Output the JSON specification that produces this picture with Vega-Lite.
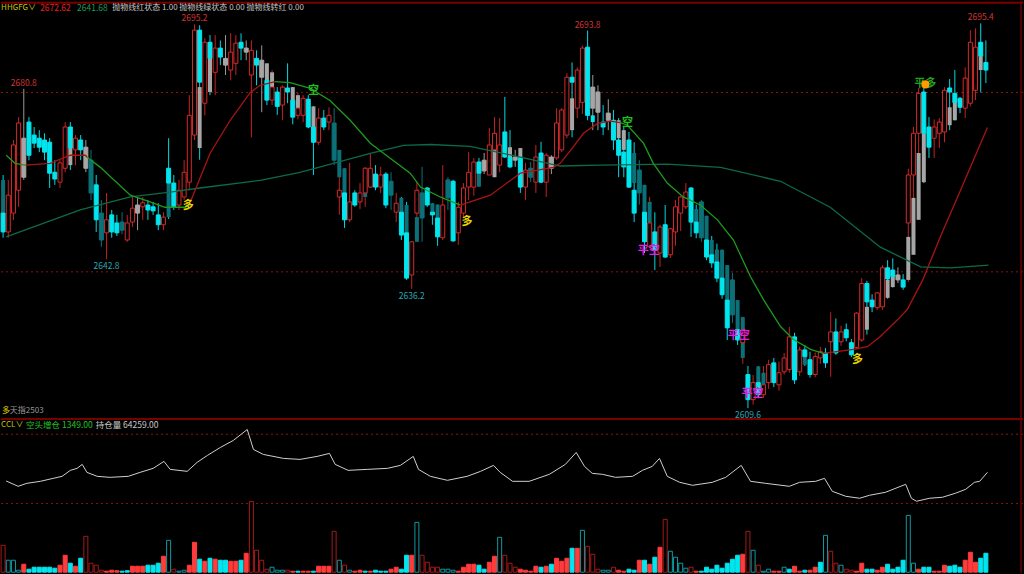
{
"$schema":"https://vega.github.io/schema/vega-lite/v6.json",
"background":"#000000",
"padding":0,
"width":1024,
"height":574,
"autosize":{"type":"fit","contains":"padding"},
"config":{"view":{"stroke":null},"legend":{"disable":true},"text":{"font":"Noto Sans CJK SC"}},
"resolve":{"scale":{"y":"independent","color":"independent","fill":"independent","stroke":"independent"}},
"datasets":{
"k":[
{"i":0,"k":"d","o":2653.1,"h":2661.6,"l":2647.6,"c":2648.9,"a":2660.5,"b":2653.1,"k2":"t","v":2700,"vt":"hr"},
{"i":1,"k":"u","o":2648.9,"h":2660.5,"l":2647.6,"c":2657.1,"v":1200,"vt":"ht"},
{"i":2,"k":"u","o":2653.1,"h":2669.4,"l":2651.6,"c":2668.3,"v":1200,"vt":"ht"},
{"i":3,"k":"u","o":2658.2,"h":2674.5,"l":2654.5,"c":2673.2,"v":200,"vt":"ht"},
{"i":4,"k":"g","o":2661.1,"h":2680.8,"l":2660.5,"c":2669.8,"v":800,"vt":"r"},
{"i":5,"k":"d","o":2673.4,"h":2674.5,"l":2664.9,"c":2666.0,"v":300,"vt":"c"},
{"i":6,"k":"d","o":2670.5,"h":2672.3,"l":2667.6,"c":2668.7,"v":500,"vt":"c"},
{"i":7,"k":"d","o":2669.8,"h":2671.6,"l":2666.7,"c":2667.8,"v":500,"vt":"c"},
{"i":8,"k":"d","o":2669.4,"h":2670.9,"l":2664.9,"c":2666.7,"v":500,"vt":"c"},
{"i":9,"k":"d","o":2668.9,"h":2669.8,"l":2658.7,"c":2662.0,"v":500,"vt":"c"},
{"i":10,"k":"d","o":2662.2,"h":2664.9,"l":2659.4,"c":2660.7,"v":400,"vt":"c"},
{"i":11,"k":"u","o":2660.0,"h":2664.9,"l":2658.7,"c":2664.3,"v":700,"vt":"r"},
{"i":12,"k":"u","o":2663.1,"h":2673.4,"l":2662.2,"c":2672.3,"v":1700,"vt":"r"},
{"i":13,"k":"d","o":2672.3,"h":2673.4,"l":2662.7,"c":2667.6,"a":2667.6,"b":2663.8,"k2":"g","v":900,"vt":"c"},
{"i":14,"k":"u","o":2667.2,"h":2670.5,"l":2663.8,"c":2669.8,"v":600,"vt":"r"},
{"i":15,"k":"d","o":2669.4,"h":2670.5,"l":2664.9,"c":2667.2,"v":1400,"vt":"c"},
{"i":16,"k":"g","o":2667.8,"h":2669.4,"l":2662.2,"c":2663.1,"v":3600,"vt":"hr"},
{"i":17,"k":"t","o":2664.9,"h":2667.2,"l":2656.0,"c":2657.6,"v":900,"vt":"hr"},
{"i":18,"k":"d","o":2659.4,"h":2661.6,"l":2648.9,"c":2651.6,"v":700,"vt":"hr"},
{"i":19,"k":"t","o":2653.1,"h":2656.0,"l":2645.6,"c":2647.1,"v":200,"vt":"hr"},
{"i":20,"k":"u","o":2648.7,"h":2657.6,"l":2642.8,"c":2651.6,"v":100,"vt":"r"},
{"i":21,"k":"d","o":2652.7,"h":2653.8,"l":2647.6,"c":2648.9,"v":200,"vt":"r"},
{"i":22,"k":"d","o":2650.9,"h":2652.7,"l":2648.0,"c":2648.7,"v":150,"vt":"r"},
{"i":23,"k":"t","o":2651.1,"h":2653.3,"l":2648.4,"c":2649.3,"v":100,"vt":"c"},
{"i":24,"k":"u","o":2647.1,"h":2652.7,"l":2646.7,"c":2650.9,"v":150,"vt":"c"},
{"i":25,"k":"u","o":2651.1,"h":2656.7,"l":2650.0,"c":2654.2,"v":600,"vt":"r"},
{"i":26,"k":"g","o":2654.9,"h":2656.5,"l":2649.3,"c":2653.1,"v":600,"vt":"r"},
{"i":27,"k":"u","o":2654.5,"h":2656.7,"l":2651.6,"c":2655.4,"v":600,"vt":"r"},
{"i":28,"k":"d","o":2654.9,"h":2656.0,"l":2651.6,"c":2653.8,"v":700,"vt":"c"},
{"i":29,"k":"d","o":2654.5,"h":2655.6,"l":2652.7,"c":2653.6,"v":700,"vt":"c"},
{"i":30,"k":"d","o":2652.7,"h":2655.3,"l":2649.3,"c":2650.5,"v":900,"vt":"c"},
{"i":31,"k":"u","o":2650.5,"h":2653.3,"l":2649.3,"c":2652.2,"v":1600,"vt":"r"},
{"i":32,"k":"d","o":2663.1,"h":2669.8,"l":2651.8,"c":2659.8,"a":2659.8,"b":2652.2,"k2":"t","v":3200,"vt":"ht"},
{"i":33,"k":"d","o":2659.8,"h":2661.6,"l":2653.8,"c":2654.5,"v":300,"vt":"hr"},
{"i":34,"k":"u","o":2654.9,"h":2660.5,"l":2653.8,"c":2658.2,"v":100,"vt":"ht"},
{"i":35,"k":"u","o":2656.7,"h":2664.9,"l":2656.0,"c":2662.2,"v":200,"vt":"ht"},
{"i":36,"k":"u","o":2660.0,"h":2679.4,"l":2658.2,"c":2674.9,"v":700,"vt":"r"},
{"i":37,"k":"u","o":2670.5,"h":2695.2,"l":2669.4,"c":2693.9,"v":3000,"vt":"r"},
{"i":38,"k":"d","o":2693.9,"h":2695.0,"l":2665.0,"c":2682.3,"a":2681.2,"b":2667.6,"k2":"g","v":1300,"vt":"c"},
{"i":39,"k":"u","o":2677.6,"h":2692.1,"l":2674.9,"c":2691.2,"v":1100,"vt":"r"},
{"i":40,"k":"d","o":2691.2,"h":2692.8,"l":2679.4,"c":2687.6,"a":2687.6,"b":2680.1,"k2":"g","v":1400,"vt":"c"},
{"i":41,"k":"u","o":2684.5,"h":2692.8,"l":2679.4,"c":2689.9,"v":1300,"vt":"r"},
{"i":42,"k":"d","o":2689.9,"h":2691.6,"l":2686.1,"c":2687.9,"v":1200,"vt":"c"},
{"i":43,"k":"g","o":2687.6,"h":2692.8,"l":2683.9,"c":2686.1,"v":1200,"vt":"c"},
{"i":44,"k":"u","o":2685.0,"h":2693.2,"l":2682.7,"c":2689.0,"v":1100,"vt":"r"},
{"i":45,"k":"u","o":2686.5,"h":2692.8,"l":2683.9,"c":2691.0,"v":1100,"vt":"r"},
{"i":46,"k":"d","o":2691.2,"h":2693.2,"l":2687.2,"c":2689.9,"v":1200,"vt":"c"},
{"i":47,"k":"g","o":2689.9,"h":2691.6,"l":2687.2,"c":2689.0,"v":1900,"vt":"r"},
{"i":48,"k":"u","o":2683.9,"h":2691.6,"l":2670.0,"c":2689.4,"v":7100,"vt":"hr"},
{"i":49,"k":"d","o":2687.6,"h":2689.4,"l":2681.6,"c":2686.1,"v":2200,"vt":"hr"},
{"i":50,"k":"g","o":2687.2,"h":2690.5,"l":2675.6,"c":2683.4,"v":1200,"vt":"hr"},
{"i":51,"k":"d","o":2682.7,"h":2686.5,"l":2677.2,"c":2678.3,"a":2686.5,"b":2682.7,"k2":"g","v":300,"vt":"hr"},
{"i":52,"k":"u","o":2678.3,"h":2685.0,"l":2677.2,"c":2681.2,"a":2684.5,"b":2681.2,"k2":"g","v":500,"vt":"ht"},
{"i":53,"k":"d","o":2680.1,"h":2681.2,"l":2675.0,"c":2676.9,"v":200,"vt":"ht"},
{"i":54,"k":"u","o":2677.2,"h":2681.6,"l":2673.8,"c":2681.2,"v":200,"vt":"ht"},
{"i":55,"k":"d","o":2681.0,"h":2686.5,"l":2677.6,"c":2680.1,"v":200,"vt":"hr"},
{"i":56,"k":"d","o":2678.3,"h":2681.2,"l":2672.9,"c":2674.5,"a":2681.2,"b":2678.3,"k2":"g","v":100,"vt":"r"},
{"i":57,"k":"u","o":2674.9,"h":2679.9,"l":2674.0,"c":2676.5,"a":2679.4,"b":2676.5,"k2":"g","v":100,"vt":"c"},
{"i":58,"k":"u","o":2674.9,"h":2679.4,"l":2673.4,"c":2678.7,"v":100,"vt":"r"},
{"i":59,"k":"d","o":2678.5,"h":2679.4,"l":2672.0,"c":2672.3,"v":100,"vt":"r"},
{"i":60,"k":"d","o":2672.3,"h":2676.9,"l":2661.6,"c":2668.9,"a":2676.9,"b":2672.3,"k2":"g","v":100,"vt":"c"},
{"i":61,"k":"u","o":2668.9,"h":2676.5,"l":2668.3,"c":2674.3,"v":600,"vt":"r"},
{"i":62,"k":"d","o":2674.3,"h":2676.1,"l":2671.6,"c":2672.3,"v":600,"vt":"r"},
{"i":63,"k":"u","o":2673.4,"h":2676.7,"l":2671.6,"c":2674.9,"v":600,"vt":"r"},
{"i":64,"k":"t","o":2673.2,"h":2676.5,"l":2663.8,"c":2664.9,"v":4100,"vt":"hr"},
{"i":65,"k":"u","o":2656.7,"h":2662.2,"l":2652.7,"c":2658.2,"a":2667.2,"b":2661.1,"k2":"t","v":1200,"vt":"ht"},
{"i":66,"k":"d","o":2657.6,"h":2663.1,"l":2649.8,"c":2651.6,"a":2663.1,"b":2657.6,"k2":"t","v":700,"vt":"hr"},
{"i":67,"k":"u","o":2651.6,"h":2664.3,"l":2651.1,"c":2655.6,"v":200,"vt":"ht"},
{"i":68,"k":"d","o":2657.6,"h":2658.2,"l":2654.5,"c":2654.9,"v":100,"vt":"r"},
{"i":69,"k":"u","o":2655.6,"h":2659.8,"l":2654.0,"c":2657.6,"v":200,"vt":"r"},
{"i":70,"k":"u","o":2657.6,"h":2663.4,"l":2654.5,"c":2663.1,"a":2662.7,"b":2656.7,"k2":"t","v":100,"vt":"c"},
{"i":71,"k":"u","o":2658.9,"h":2666.5,"l":2658.7,"c":2663.1,"v":100,"vt":"r"},
{"i":72,"k":"d","o":2661.8,"h":2663.8,"l":2658.2,"c":2658.9,"v":200,"vt":"c"},
{"i":73,"k":"u","o":2658.9,"h":2663.4,"l":2657.6,"c":2661.6,"v":100,"vt":"c"},
{"i":74,"k":"d","o":2661.8,"h":2662.2,"l":2654.2,"c":2654.9,"v":100,"vt":"c"},
{"i":75,"k":"t","o":2660.2,"h":2662.2,"l":2653.8,"c":2657.1,"v":300,"vt":"r"},
{"i":76,"k":"u","o":2653.3,"h":2657.6,"l":2651.1,"c":2655.3,"v":500,"vt":"r"},
{"i":77,"k":"d","o":2653.3,"h":2656.7,"l":2647.1,"c":2648.2,"a":2656.5,"b":2651.6,"k2":"t","v":300,"vt":"c"},
{"i":78,"k":"d","o":2648.7,"h":2655.6,"l":2638.2,"c":2638.6,"a":2654.9,"b":2648.7,"k2":"t","v":1700,"vt":"c"},
{"i":79,"k":"u","o":2639.3,"h":2646.9,"l":2636.2,"c":2646.7,"v":1700,"vt":"r"},
{"i":80,"k":"u","o":2653.1,"h":2660.0,"l":2646.7,"c":2658.2,"a":2652.2,"b":2646.7,"k2":"t","v":5000,"vt":"ht"},
{"i":81,"k":"t","o":2657.6,"h":2663.4,"l":2646.7,"c":2652.0,"v":1700,"vt":"hr"},
{"i":82,"k":"d","o":2658.7,"h":2658.9,"l":2654.5,"c":2654.9,"v":1000,"vt":"hr"},
{"i":83,"k":"d","o":2653.3,"h":2655.3,"l":2650.5,"c":2652.7,"a":2655.3,"b":2652.7,"k2":"t","v":500,"vt":"hr"},
{"i":84,"k":"d","o":2652.0,"h":2655.0,"l":2645.8,"c":2647.8,"a":2655.0,"b":2652.0,"k2":"t","v":500,"vt":"hr"},
{"i":85,"k":"u","o":2647.6,"h":2663.8,"l":2647.1,"c":2654.9,"v":300,"vt":"ht"},
{"i":86,"k":"t","o":2660.5,"h":2661.1,"l":2653.8,"c":2656.5,"v":300,"vt":"ht"},
{"i":87,"k":"d","o":2660.2,"h":2660.5,"l":2646.7,"c":2646.9,"v":200,"vt":"ht"},
{"i":88,"k":"u","o":2648.7,"h":2655.6,"l":2646.0,"c":2654.4,"v":100,"vt":"r"},
{"i":89,"k":"u","o":2653.1,"h":2659.8,"l":2652.0,"c":2658.7,"v":500,"vt":"r"},
{"i":90,"k":"u","o":2658.9,"h":2666.7,"l":2656.0,"c":2662.2,"v":800,"vt":"r"},
{"i":91,"k":"u","o":2658.9,"h":2665.4,"l":2657.0,"c":2664.5,"v":800,"vt":"r"},
{"i":92,"k":"d","o":2664.5,"h":2665.4,"l":2659.0,"c":2662.0,"a":2662.0,"b":2659.0,"k2":"t","v":700,"vt":"c"},
{"i":93,"k":"g","o":2664.9,"h":2666.5,"l":2661.8,"c":2662.5,"v":300,"vt":"c"},
{"i":94,"k":"u","o":2661.6,"h":2672.1,"l":2661.6,"c":2668.3,"v":1000,"vt":"r"},
{"i":95,"k":"u","o":2667.2,"h":2674.5,"l":2661.1,"c":2670.9,"a":2670.9,"b":2661.1,"k2":"g","v":1600,"vt":"r"},
{"i":96,"k":"u","o":2663.8,"h":2674.3,"l":2662.2,"c":2668.3,"v":3500,"vt":"ht"},
{"i":97,"k":"d","o":2671.2,"h":2679.0,"l":2665.4,"c":2665.6,"v":1700,"vt":"hr"},
{"i":98,"k":"d","o":2665.6,"h":2671.6,"l":2663.1,"c":2663.4,"a":2667.8,"b":2665.6,"k2":"g","v":900,"vt":"hr"},
{"i":99,"k":"g","o":2665.6,"h":2667.2,"l":2663.4,"c":2664.9,"v":500,"vt":"hr"},
{"i":100,"k":"d","o":2665.4,"h":2667.6,"l":2657.6,"c":2658.9,"a":2667.6,"b":2665.4,"k2":"g","v":300,"vt":"r"},
{"i":101,"k":"u","o":2658.9,"h":2664.3,"l":2656.0,"c":2662.7,"v":200,"vt":"r"},
{"i":102,"k":"t","o":2663.1,"h":2664.5,"l":2660.0,"c":2661.1,"v":100,"vt":"r"},
{"i":103,"k":"u","o":2660.0,"h":2668.3,"l":2657.6,"c":2665.6,"v":600,"vt":"r"},
{"i":104,"k":"d","o":2666.5,"h":2669.0,"l":2659.8,"c":2660.0,"v":500,"vt":"c"},
{"i":105,"k":"u","o":2660.0,"h":2666.5,"l":2656.7,"c":2666.0,"v":600,"vt":"r"},
{"i":106,"k":"g","o":2665.6,"h":2666.0,"l":2661.8,"c":2663.1,"v":800,"vt":"c"},
{"i":107,"k":"u","o":2665.4,"h":2676.5,"l":2665.0,"c":2673.2,"v":1400,"vt":"r"},
{"i":108,"k":"u","o":2667.2,"h":2676.5,"l":2666.7,"c":2676.1,"v":1100,"vt":"r"},
{"i":109,"k":"u","o":2670.5,"h":2684.3,"l":2669.8,"c":2683.4,"v":1400,"vt":"r"},
{"i":110,"k":"d","o":2683.4,"h":2686.7,"l":2670.0,"c":2682.3,"a":2678.7,"b":2671.6,"k2":"g","v":2400,"vt":"c"},
{"i":111,"k":"u","o":2676.5,"h":2685.6,"l":2674.3,"c":2685.0,"v":2400,"vt":"r"},
{"i":112,"k":"u","o":2677.8,"h":2690.5,"l":2675.2,"c":2689.9,"v":4200,"vt":"ht"},
{"i":113,"k":"d","o":2690.1,"h":2693.8,"l":2673.8,"c":2674.9,"v":2600,"vt":"hr"},
{"i":114,"k":"g","o":2681.2,"h":2683.9,"l":2671.6,"c":2676.5,"a":2674.9,"b":2673.4,"k2":"d","v":1800,"vt":"hr"},
{"i":115,"k":"g","o":2680.1,"h":2681.6,"l":2671.6,"c":2675.6,"v":300,"vt":"hr"},
{"i":116,"k":"d","o":2673.4,"h":2677.2,"l":2670.5,"c":2672.3,"v":200,"vt":"ht"},
{"i":117,"k":"g","o":2675.4,"h":2678.5,"l":2671.6,"c":2673.8,"v":200,"vt":"ht"},
{"i":118,"k":"d","o":2673.8,"h":2676.1,"l":2667.2,"c":2669.4,"v":500,"vt":"hr"},
{"i":119,"k":"d","o":2669.4,"h":2674.3,"l":2661.1,"c":2666.0,"a":2673.8,"b":2669.8,"k2":"g","v":200,"vt":"r"},
{"i":120,"k":"d","o":2666.7,"h":2672.3,"l":2661.1,"c":2663.4,"a":2671.6,"b":2667.2,"k2":"g","v":100,"vt":"r"},
{"i":121,"k":"d","o":2669.4,"h":2671.2,"l":2658.7,"c":2658.9,"v":300,"vt":"c"},
{"i":122,"k":"d","o":2658.2,"h":2668.9,"l":2651.1,"c":2653.1,"a":2666.5,"b":2659.8,"k2":"t","v":200,"vt":"c"},
{"i":123,"k":"t","o":2662.7,"h":2664.9,"l":2655.0,"c":2657.6,"v":1200,"vt":"r"},
{"i":124,"k":"d","o":2653.3,"h":2659.4,"l":2644.2,"c":2646.7,"a":2659.4,"b":2653.1,"k2":"t","v":1200,"vt":"c"},
{"i":125,"k":"u","o":2645.6,"h":2656.7,"l":2645.3,"c":2650.9,"a":2655.6,"b":2650.0,"k2":"t","v":800,"vt":"r"},
{"i":126,"k":"d","o":2648.9,"h":2653.3,"l":2640.4,"c":2644.9,"v":1500,"vt":"c"},
{"i":127,"k":"u","o":2644.2,"h":2650.5,"l":2641.1,"c":2650.0,"v":2500,"vt":"r"},
{"i":128,"k":"d","o":2650.5,"h":2654.9,"l":2643.1,"c":2643.3,"v":5300,"vt":"hr"},
{"i":129,"k":"u","o":2643.8,"h":2649.8,"l":2643.1,"c":2649.6,"v":2100,"vt":"ht"},
{"i":130,"k":"u","o":2648.9,"h":2656.0,"l":2645.8,"c":2654.5,"v":1500,"vt":"ht"},
{"i":131,"k":"u","o":2653.1,"h":2657.0,"l":2649.1,"c":2656.7,"v":900,"vt":"ht"},
{"i":132,"k":"u","o":2654.5,"h":2659.8,"l":2654.0,"c":2657.8,"v":400,"vt":"ht"},
{"i":133,"k":"d","o":2658.7,"h":2658.9,"l":2647.8,"c":2651.1,"v":500,"vt":"hr"},
{"i":134,"k":"d","o":2651.1,"h":2655.0,"l":2647.5,"c":2648.7,"a":2654.0,"b":2651.1,"k2":"t","v":100,"vt":"r"},
{"i":135,"k":"t","o":2655.6,"h":2656.0,"l":2646.7,"c":2647.6,"v":100,"vt":"c"},
{"i":136,"k":"d","o":2647.1,"h":2652.5,"l":2642.6,"c":2643.3,"a":2652.5,"b":2647.1,"k2":"t","v":500,"vt":"c"},
{"i":137,"k":"d","o":2643.8,"h":2648.0,"l":2640.9,"c":2642.0,"a":2647.1,"b":2643.8,"k2":"t","v":300,"vt":"c"},
{"i":138,"k":"d","o":2642.2,"h":2646.3,"l":2637.7,"c":2638.6,"a":2645.0,"b":2642.2,"k2":"t","v":700,"vt":"c"},
{"i":139,"k":"d","o":2638.6,"h":2645.0,"l":2634.0,"c":2634.9,"a":2644.9,"b":2638.6,"k2":"t","v":400,"vt":"c"},
{"i":140,"k":"d","o":2633.7,"h":2641.5,"l":2624.8,"c":2627.5,"a":2641.5,"b":2630.4,"k2":"t","v":900,"vt":"c"},
{"i":141,"k":"t","o":2638.2,"h":2639.8,"l":2628.6,"c":2630.4,"v":1300,"vt":"c"},
{"i":142,"k":"d","o":2627.1,"h":2633.7,"l":2623.7,"c":2624.8,"a":2633.7,"b":2627.1,"k2":"t","v":1700,"vt":"c"},
{"i":143,"k":"u","o":2624.2,"h":2630.0,"l":2619.5,"c":2627.1,"a":2629.9,"b":2620.8,"k2":"t","v":1800,"vt":"r"},
{"i":144,"k":"d","o":2617.1,"h":2619.0,"l":2609.6,"c":2611.5,"v":4100,"vt":"hr"},
{"i":145,"k":"u","o":2611.5,"h":2617.0,"l":2610.4,"c":2615.3,"v":2200,"vt":"ht"},
{"i":146,"k":"d","o":2615.3,"h":2619.0,"l":2611.8,"c":2612.6,"a":2618.9,"b":2615.3,"k2":"t","v":700,"vt":"hr"},
{"i":147,"k":"u","o":2612.6,"h":2619.0,"l":2611.9,"c":2614.8,"a":2617.5,"b":2614.8,"k2":"t","v":100,"vt":"ht"},
{"i":148,"k":"u","o":2615.3,"h":2620.4,"l":2613.9,"c":2619.3,"v":300,"vt":"ht"},
{"i":149,"k":"d","o":2619.7,"h":2620.8,"l":2614.3,"c":2615.3,"v":100,"vt":"r"},
{"i":150,"k":"u","o":2614.8,"h":2620.0,"l":2613.5,"c":2617.5,"v":100,"vt":"r"},
{"i":151,"k":"u","o":2617.7,"h":2621.9,"l":2617.1,"c":2620.8,"v":500,"vt":"ht"},
{"i":152,"k":"u","o":2618.2,"h":2627.7,"l":2617.5,"c":2625.5,"v":300,"vt":"c"},
{"i":153,"k":"d","o":2625.5,"h":2626.4,"l":2615.0,"c":2615.9,"a":2622.6,"b":2618.6,"k2":"t","v":600,"vt":"r"},
{"i":154,"k":"u","o":2617.7,"h":2623.3,"l":2616.8,"c":2622.6,"v":100,"vt":"r"},
{"i":155,"k":"d","o":2622.6,"h":2623.7,"l":2619.0,"c":2621.1,"a":2621.1,"b":2619.3,"k2":"t","v":200,"vt":"c"},
{"i":156,"k":"d","o":2620.4,"h":2622.2,"l":2616.4,"c":2617.1,"v":200,"vt":"r"},
{"i":157,"k":"u","o":2617.1,"h":2622.0,"l":2616.5,"c":2621.1,"v":500,"vt":"r"},
{"i":158,"k":"u","o":2620.8,"h":2623.3,"l":2619.5,"c":2622.2,"v":1000,"vt":"c"},
{"i":159,"k":"d","o":2621.9,"h":2623.0,"l":2618.6,"c":2619.7,"v":3700,"vt":"ht"},
{"i":160,"k":"u","o":2624.4,"h":2631.0,"l":2616.6,"c":2626.6,"v":2100,"vt":"hr"},
{"i":161,"k":"d","o":2626.6,"h":2629.6,"l":2621.5,"c":2621.9,"v":900,"vt":"hr"},
{"i":162,"k":"u","o":2624.4,"h":2628.0,"l":2623.5,"c":2626.6,"v":700,"vt":"ht"},
{"i":163,"k":"d","o":2627.1,"h":2628.5,"l":2624.5,"c":2625.3,"v":300,"vt":"hr"},
{"i":164,"k":"d","o":2624.2,"h":2625.0,"l":2621.0,"c":2621.5,"v":200,"vt":"hr"},
{"i":165,"k":"u","o":2623.1,"h":2631.0,"l":2622.8,"c":2630.8,"v":100,"vt":"r"},
{"i":166,"k":"u","o":2624.8,"h":2638.6,"l":2624.4,"c":2637.4,"v":900,"vt":"r"},
{"i":167,"k":"d","o":2637.4,"h":2638.0,"l":2626.0,"c":2633.3,"a":2632.2,"b":2627.1,"k2":"g","v":300,"vt":"c"},
{"i":168,"k":"d","o":2633.7,"h":2635.0,"l":2631.0,"c":2632.2,"v":300,"vt":"c"},
{"i":169,"k":"u","o":2632.0,"h":2635.5,"l":2631.5,"c":2635.3,"v":200,"vt":"r"},
{"i":170,"k":"u","o":2632.2,"h":2641.5,"l":2631.5,"c":2640.9,"v":500,"vt":"r"},
{"i":171,"k":"d","o":2640.9,"h":2642.6,"l":2634.0,"c":2638.4,"a":2638.2,"b":2634.2,"k2":"g","v":800,"vt":"c"},
{"i":172,"k":"d","o":2640.4,"h":2643.0,"l":2636.5,"c":2638.9,"a":2638.9,"b":2636.6,"k2":"g","v":300,"vt":"c"},
{"i":173,"k":"g","o":2639.3,"h":2641.0,"l":2637.5,"c":2638.2,"v":500,"vt":"c"},
{"i":174,"k":"d","o":2638.2,"h":2639.5,"l":2636.0,"c":2636.6,"v":1200,"vt":"c"},
{"i":175,"k":"u","o":2650.9,"h":2663.0,"l":2637.7,"c":2661.6,"a":2647.8,"b":2638.2,"k2":"g","v":5700,"vt":"ht"},
{"i":176,"k":"u","o":2661.6,"h":2672.3,"l":2643.8,"c":2670.9,"a":2656.5,"b":2643.8,"k2":"g","v":900,"vt":"ht"},
{"i":177,"k":"u","o":2670.9,"h":2681.0,"l":2651.6,"c":2679.8,"a":2666.5,"b":2651.6,"k2":"g","v":300,"vt":"r"},
{"i":178,"k":"d","o":2680.1,"h":2682.0,"l":2659.8,"c":2670.9,"a":2670.9,"b":2660.0,"k2":"g","v":500,"vt":"c"},
{"i":179,"k":"d","o":2672.3,"h":2674.5,"l":2665.4,"c":2667.8,"v":500,"vt":"c"},
{"i":180,"k":"u","o":2669.8,"h":2674.0,"l":2665.4,"c":2672.3,"v":100,"vt":"r"},
{"i":181,"k":"u","o":2670.9,"h":2674.3,"l":2667.6,"c":2673.4,"v":100,"vt":"r"},
{"i":182,"k":"u","o":2671.2,"h":2681.2,"l":2668.9,"c":2680.5,"v":700,"vt":"r"},
{"i":183,"k":"d","o":2681.0,"h":2683.0,"l":2671.6,"c":2680.1,"a":2676.7,"b":2672.7,"k2":"g","v":600,"vt":"c"},
{"i":184,"k":"d","o":2679.8,"h":2685.0,"l":2673.8,"c":2677.8,"a":2678.3,"b":2673.8,"k2":"g","v":700,"vt":"c"},
{"i":185,"k":"d","o":2678.7,"h":2679.0,"l":2675.4,"c":2676.7,"v":500,"vt":"c"},
{"i":186,"k":"u","o":2676.5,"h":2685.6,"l":2674.3,"c":2683.2,"v":1200,"vt":"r"},
{"i":187,"k":"u","o":2677.6,"h":2693.9,"l":2676.9,"c":2691.2,"v":2000,"vt":"r"},
{"i":188,"k":"u","o":2680.5,"h":2694.3,"l":2678.3,"c":2690.1,"a":2687.6,"b":2680.5,"k2":"g","v":1000,"vt":"r"},
{"i":189,"k":"d","o":2691.2,"h":2695.4,"l":2680.0,"c":2688.1,"a":2688.1,"b":2685.0,"k2":"g","v":1400,"vt":"c"},
{"i":190,"k":"d","o":2686.7,"h":2691.6,"l":2682.1,"c":2685.0,"v":1900,"vt":"c"}
],
"ma":[
{"i":0.6,"p":2647.8},{"i":14.9,"p":2653.8},{"i":24.6,"p":2656.7},{"i":32.3,"p":2657.8},{"i":38.1,"p":2658.7},{"i":49.7,"p":2660.4},{"i":57.4,"p":2662.2},{"i":71.0,"p":2666.4},{"i":77.4,"p":2668.2},{"i":82.6,"p":2668.4},{"i":90.3,"p":2668.0},{"i":100.0,"p":2665.6},{"i":107.7,"p":2663.6},{"i":115.5,"p":2663.8},{"i":128.4,"p":2664.0},{"i":138.7,"p":2663.3},{"i":150.3,"p":2660.2},{"i":159.9,"p":2654.4},{"i":169.6,"p":2645.5},{"i":177.4,"p":2641.1},{"i":183.2,"p":2640.9},{"i":190.5,"p":2641.5}
],
"pl":[
{"i":0.6,"p":2666.0,"s":"g","seg":"g1"},{"i":2.3,"p":2664.2,"s":"g","seg":"g1"},{"i":4.3,"p":2663.8,"s":"g","seg":"g1"},
{"i":4.3,"p":2663.8,"s":"r","seg":"r1"},{"i":9.1,"p":2664.2,"s":"r","seg":"r1"},{"i":13.0,"p":2666.0,"s":"r","seg":"r1"},{"i":15.9,"p":2666.0,"s":"r","seg":"r1"},{"i":16.2,"p":2665.6,"s":"r","seg":"r1"},
{"i":16.2,"p":2665.6,"s":"g","seg":"g2"},{"i":18.8,"p":2663.3,"s":"g","seg":"g2"},{"i":24.6,"p":2657.1,"s":"g","seg":"g2"},{"i":28.4,"p":2655.6,"s":"g","seg":"g2"},{"i":31.3,"p":2654.4,"s":"g","seg":"g2"},{"i":35.2,"p":2654.4,"s":"g","seg":"g2"},{"i":36.0,"p":2655.0,"s":"g","seg":"g2"},
{"i":36.0,"p":2655.0,"s":"r","seg":"r2"},{"i":40.0,"p":2666.4,"s":"r","seg":"r2"},{"i":43.9,"p":2673.8,"s":"r","seg":"r2"},{"i":47.8,"p":2680.0,"s":"r","seg":"r2"},{"i":49.7,"p":2681.6,"s":"r","seg":"r2"},{"i":52.6,"p":2682.4,"s":"r","seg":"r2"},
{"i":52.6,"p":2682.4,"s":"g","seg":"g3"},{"i":55.5,"p":2682.2,"s":"g","seg":"g3"},{"i":59.4,"p":2680.9,"s":"g","seg":"g3"},{"i":63.2,"p":2678.2,"s":"g","seg":"g3"},{"i":67.1,"p":2673.8,"s":"g","seg":"g3"},{"i":71.0,"p":2668.7,"s":"g","seg":"g3"},{"i":74.9,"p":2665.3,"s":"g","seg":"g3"},{"i":78.7,"p":2662.0,"s":"g","seg":"g3"},{"i":80.7,"p":2658.9,"s":"g","seg":"g3"},{"i":84.5,"p":2656.7,"s":"g","seg":"g3"},{"i":88.4,"p":2654.9,"s":"g","seg":"g3"},
{"i":88.4,"p":2654.9,"s":"r","seg":"r3"},{"i":94.2,"p":2657.1,"s":"r","seg":"r3"},{"i":100.0,"p":2662.0,"s":"r","seg":"r3"},{"i":106.4,"p":2663.3,"s":"r","seg":"r3"},{"i":107.7,"p":2664.2,"s":"r","seg":"r3"},{"i":109.7,"p":2667.1,"s":"r","seg":"r3"},{"i":112.2,"p":2670.9,"s":"r","seg":"r3"},{"i":114.9,"p":2673.1,"s":"r","seg":"r3"},{"i":117.4,"p":2673.6,"s":"r","seg":"r3"},{"i":119.3,"p":2673.3,"s":"r","seg":"r3"},
{"i":119.3,"p":2673.3,"s":"g","seg":"g4"},{"i":120.7,"p":2672.7,"s":"g","seg":"g4"},{"i":123.8,"p":2668.7,"s":"g","seg":"g4"},{"i":125.7,"p":2664.2,"s":"g","seg":"g4"},{"i":128.4,"p":2659.8,"s":"g","seg":"g4"},{"i":131.5,"p":2656.7,"s":"g","seg":"g4"},{"i":134.8,"p":2654.9,"s":"g","seg":"g4"},{"i":138.1,"p":2651.6,"s":"g","seg":"g4"},{"i":141.2,"p":2647.1,"s":"g","seg":"g4"},{"i":144.5,"p":2638.9,"s":"g","seg":"g4"},{"i":147.0,"p":2633.8,"s":"g","seg":"g4"},{"i":150.3,"p":2627.8,"s":"g","seg":"g4"},{"i":152.8,"p":2624.9,"s":"g","seg":"g4"},{"i":156.1,"p":2622.7,"s":"g","seg":"g4"},{"i":158.6,"p":2621.8,"s":"g","seg":"g4"},
{"i":158.6,"p":2621.8,"s":"r","seg":"r4"},{"i":164.4,"p":2622.7,"s":"r","seg":"r4"},{"i":167.1,"p":2623.3,"s":"r","seg":"r4"},{"i":169.6,"p":2625.6,"s":"r","seg":"r4"},{"i":172.9,"p":2629.3,"s":"r","seg":"r4"},{"i":174.8,"p":2631.6,"s":"r","seg":"r4"},{"i":177.8,"p":2638.2,"s":"r","seg":"r4"},{"i":181.2,"p":2647.8,"s":"r","seg":"r4"},{"i":185.1,"p":2658.2,"s":"r","seg":"r4"},{"i":190.3,"p":2672.2,"s":"r","seg":"r4"}
],
"lab":[
{"i":4,"p":2680.8,"t":"2680.8","g":"hi"},{"i":37,"p":2695.2,"t":"2695.2","g":"hi"},{"i":113,"p":2693.8,"t":"2693.8","g":"hi"},{"i":189,"p":2695.4,"t":"2695.4","g":"hi"},
{"i":20,"p":2642.8,"t":"2642.8","g":"lo"},{"i":79,"p":2636.2,"t":"2636.2","g":"lo"},{"i":144,"p":2609.6,"t":"2609.6","g":"lo"}
],
"sig":[
{"i":35.8,"p":2654.7,"t":"多","g":"long"},{"i":60.0,"p":2680.4,"t":"空","g":"short"},{"i":89.7,"p":2651.1,"t":"多","g":"long"},{"i":120.7,"p":2673.1,"t":"空","g":"short"},
{"i":124.8,"p":2644.7,"t":"平空","g":"cs"},{"i":142.2,"p":2625.6,"t":"平空","g":"cs"},{"i":144.9,"p":2612.7,"t":"平空","g":"cs"},{"i":165.2,"p":2620.4,"t":"多","g":"long"},{"i":178.3,"p":2682.0,"t":"平多","g":"cl"}
],
"oi":[
{"i":0.6,"v":62959},{"i":2.9,"v":62159},{"i":4.6,"v":62609},{"i":7.2,"v":62909},{"i":9.7,"v":63359},{"i":11.4,"v":63659},{"i":13.0,"v":64559},{"i":14.3,"v":64859},{"i":15.3,"v":65459},{"i":16.2,"v":64259},{"i":18.2,"v":63659},{"i":20.7,"v":63509},{"i":24.2,"v":63659},{"i":26.5,"v":64259},{"i":29.0,"v":64859},{"i":31.1,"v":65909},{"i":32.3,"v":64709},{"i":35.6,"v":64409},{"i":37.5,"v":65759},{"i":39.5,"v":66809},{"i":42.0,"v":68009},{"i":44.5,"v":69059},{"i":47.2,"v":70709},{"i":48.4,"v":67709},{"i":50.3,"v":66959},{"i":54.2,"v":66359},{"i":57.4,"v":66209},{"i":60.7,"v":66659},{"i":63.1,"v":67109},{"i":64.2,"v":65459},{"i":66.7,"v":64559},{"i":70.4,"v":64709},{"i":74.3,"v":64859},{"i":76.8,"v":65309},{"i":79.3,"v":66659},{"i":80.3,"v":64709},{"i":82.6,"v":63659},{"i":85.9,"v":63059},{"i":89.7,"v":63659},{"i":92.3,"v":64409},{"i":94.8,"v":65309},{"i":96.1,"v":64259},{"i":98.5,"v":62909},{"i":101.7,"v":62909},{"i":105.6,"v":63959},{"i":108.7,"v":65459},{"i":110.8,"v":67259},{"i":112.4,"v":65159},{"i":113.9,"v":64109},{"i":115.9,"v":63959},{"i":118.4,"v":63509},{"i":121.7,"v":63659},{"i":123.6,"v":64559},{"i":125.5,"v":65159},{"i":126.9,"v":66359},{"i":128.4,"v":63659},{"i":130.8,"v":62759},{"i":133.3,"v":62309},{"i":137.1,"v":62759},{"i":139.7,"v":63509},{"i":142.7,"v":65309},{"i":144.5,"v":62909},{"i":147.4,"v":62609},{"i":152.0,"v":62159},{"i":154.0,"v":62759},{"i":157.1,"v":62909},{"i":158.8,"v":63359},{"i":160.3,"v":61409},{"i":162.9,"v":60659},{"i":165.6,"v":60359},{"i":167.5,"v":60809},{"i":170.6,"v":61259},{"i":174.5,"v":62459},{"i":175.6,"v":60359},{"i":176.6,"v":59909},{"i":179.1,"v":60359},{"i":181.6,"v":60509},{"i":184.1,"v":61109},{"i":186.1,"v":61709},{"i":187.8,"v":62759},{"i":188.8,"v":62909},{"i":190.3,"v":64259}
]
},
"layer":[
{"data":{"values":[{"p":2680},{"p":2640}]},"mark":{"type":"rule","stroke":"#8a1414","strokeDash":[2,3],"strokeWidth":1},
 "encoding":{"y":{"field":"p","type":"quantitative","scale":{"domain":[2572.84,2700.4],"nice":false,"zero":false},"axis":null}}},
{"data":{"values":[{"p":2700.0}]},"mark":{"type":"rule","stroke":"#7a0000","strokeWidth":2},
 "encoding":{"y":{"field":"p","type":"quantitative","scale":{"domain":[2572.84,2700.4],"nice":false,"zero":false},"axis":null}}},
{"data":{"values":[{"v":72300}]},"mark":{"type":"rule","stroke":"#7a0000","strokeWidth":2},
 "encoding":{"y":{"field":"v","type":"quantitative","scale":{"domain":[49109,135209],"nice":false,"zero":false},"axis":null}}},
{"data":{"values":[{"v":70000}]},"mark":{"type":"rule","stroke":"#8a1414","strokeDash":[2,3],"strokeWidth":1},
 "encoding":{"y":{"field":"v","type":"quantitative","scale":{"domain":[49109,135209],"nice":false,"zero":false},"axis":null}}},
{"data":{"values":[{"v":6900}]},"mark":{"type":"rule","stroke":"#8a1414","strokeDash":[2,3],"strokeWidth":1},
 "encoding":{"y":{"field":"v","type":"quantitative","scale":{"domain":[-80,57320],"nice":false,"zero":false},"axis":null}}},
{"data":{"values":[{"i":196.8}]},"mark":{"type":"rule","stroke":"#6a0000","strokeWidth":1.5},
 "encoding":{"x":{"field":"i","type":"quantitative","scale":{"domain":[0.561,196.21],"nice":false,"zero":false},"axis":null}}},
{"data":{"name":"k"},"mark":{"type":"rule","strokeWidth":1},
 "encoding":{"x":{"field":"i","type":"quantitative","scale":{"domain":[0.561,196.21],"nice":false,"zero":false},"axis":null},
  "y":{"field":"l","type":"quantitative","scale":{"domain":[2572.84,2700.4],"nice":false,"zero":false},"axis":null},
  "y2":{"field":"h"},
  "color":{"field":"k","type":"nominal","scale":{"domain":["u","d","g","t"],"range":["#c42222","#00d8e0","#9a9a9a","#0c7078"]},"legend":null}}},
{"data":{"name":"k"},"transform":[{"filter":"isValid(datum.a)"}],"mark":{"type":"bar","size":4},
 "encoding":{"x":{"field":"i","type":"quantitative","scale":{"domain":[0.561,196.21],"nice":false,"zero":false},"axis":null},
  "y":{"field":"a","type":"quantitative","scale":{"domain":[2572.84,2700.4],"nice":false,"zero":false},"axis":null},
  "y2":{"field":"b"},
  "fill":{"field":"k2","type":"nominal","scale":{"domain":["d","g","t"],"range":["#00e5ee","#a6a6a6","#0c7078"]},"legend":null}}},
{"data":{"name":"k"},"mark":{"type":"bar","size":4,"strokeWidth":1},
 "encoding":{"x":{"field":"i","type":"quantitative","scale":{"domain":[0.561,196.21],"nice":false,"zero":false},"axis":null},
  "y":{"field":"o","type":"quantitative","scale":{"domain":[2572.84,2700.4],"nice":false,"zero":false},"axis":null},
  "y2":{"field":"c"},
  "fill":{"field":"k","type":"nominal","scale":{"domain":["u","d","g","t"],"range":["#000000","#00e5ee","#a6a6a6","#0c7078"]},"legend":null},
  "stroke":{"field":"k","type":"nominal","scale":{"domain":["u","d","g","t"],"range":["#d42a2a","#00e5ee","#a6a6a6","#0c7078"]},"legend":null}}},
{"data":{"name":"ma"},"mark":{"type":"line","stroke":"#0d6a48","strokeWidth":1.3},
 "encoding":{"x":{"field":"i","type":"quantitative","scale":{"domain":[0.561,196.21],"nice":false,"zero":false},"axis":null},
  "y":{"field":"p","type":"quantitative","scale":{"domain":[2572.84,2700.4],"nice":false,"zero":false},"axis":null}}},
{"data":{"name":"pl"},"mark":{"type":"line","strokeWidth":1.3},
 "encoding":{"x":{"field":"i","type":"quantitative","scale":{"domain":[0.561,196.21],"nice":false,"zero":false},"axis":null},
  "y":{"field":"p","type":"quantitative","scale":{"domain":[2572.84,2700.4],"nice":false,"zero":false},"axis":null},
  "detail":{"field":"seg","type":"nominal"},
  "color":{"field":"s","type":"nominal","scale":{"domain":["r","g"],"range":["#a81414","#1c9c1c"]},"legend":null}}},
{"data":{"name":"lab"},"transform":[{"filter":"datum.g == 'hi'"}],"mark":{"type":"text","baseline":"bottom","align":"center","dy":-1,"fontSize":8.5,"fill":"#d03434"},
 "encoding":{"x":{"field":"i","type":"quantitative","scale":{"domain":[0.561,196.21],"nice":false,"zero":false},"axis":null},
  "y":{"field":"p","type":"quantitative","scale":{"domain":[2572.84,2700.4],"nice":false,"zero":false},"axis":null},
  "text":{"field":"t"}}},
{"data":{"name":"lab"},"transform":[{"filter":"datum.g == 'lo'"}],"mark":{"type":"text","baseline":"top","align":"center","dy":3,"fontSize":8.5,"fill":"#2aa7b5"},
 "encoding":{"x":{"field":"i","type":"quantitative","scale":{"domain":[0.561,196.21],"nice":false,"zero":false},"axis":null},
  "y":{"field":"p","type":"quantitative","scale":{"domain":[2572.84,2700.4],"nice":false,"zero":false},"axis":null},
  "text":{"field":"t"}}},
{"data":{"name":"sig"},"mark":{"type":"text","baseline":"middle","align":"center","fontSize":11,"fontWeight":"bold"},
 "encoding":{"x":{"field":"i","type":"quantitative","scale":{"domain":[0.561,196.21],"nice":false,"zero":false},"axis":null},
  "y":{"field":"p","type":"quantitative","scale":{"domain":[2572.84,2700.4],"nice":false,"zero":false},"axis":null},
  "text":{"field":"t"},
  "color":{"field":"g","type":"nominal","scale":{"domain":["long","short","cs","cl"],"range":["#e6d200","#20c020","#e020e0","#22a022"]},"legend":null}}},
{"data":{"values":[{"i":178.3,"p":2681.8}]},"mark":{"type":"circle","size":65,"fill":"#ff9a00","opacity":1},
 "encoding":{"x":{"field":"i","type":"quantitative","scale":{"domain":[0.561,196.21],"nice":false,"zero":false},"axis":null},
  "y":{"field":"p","type":"quantitative","scale":{"domain":[2572.84,2700.4],"nice":false,"zero":false},"axis":null}}},
{"data":{"values":[{}]},"mark":{"type":"text","align":"left","baseline":"middle","fontSize":8,"fill":"#c8c000","text":"HHGFG∨"},
 "encoding":{"x":{"datum":-0.39,"type":"quantitative","scale":{"domain":[0.561,196.21],"nice":false,"zero":false},"axis":null},
  "y":{"datum":2698.9,"type":"quantitative","scale":{"domain":[2572.84,2700.4],"nice":false,"zero":false},"axis":null}}},
{"data":{"values":[{}]},"mark":{"type":"text","align":"left","baseline":"middle","fontSize":8.5,"fill":"#e02020","text":"2672.62"},
 "encoding":{"x":{"datum":7.16,"type":"quantitative","scale":{"domain":[0.561,196.21],"nice":false,"zero":false},"axis":null},
  "y":{"datum":2698.9,"type":"quantitative","scale":{"domain":[2572.84,2700.4],"nice":false,"zero":false},"axis":null}}},
{"data":{"values":[{}]},"mark":{"type":"text","align":"left","baseline":"middle","fontSize":8.5,"fill":"#1a9a5a","text":"2641.68"},
 "encoding":{"x":{"datum":14.3,"type":"quantitative","scale":{"domain":[0.561,196.21],"nice":false,"zero":false},"axis":null},
  "y":{"datum":2698.9,"type":"quantitative","scale":{"domain":[2572.84,2700.4],"nice":false,"zero":false},"axis":null}}},
{"data":{"values":[{}]},"mark":{"type":"text","align":"left","baseline":"middle","fontSize":8,"fill":"#c4c4c4","text":"抛物线红状态 1.00   抛物线绿状态 0.00   抛物线转红 0.00"},
 "encoding":{"x":{"datum":21.1,"type":"quantitative","scale":{"domain":[0.561,196.21],"nice":false,"zero":false},"axis":null},
  "y":{"datum":2698.9,"type":"quantitative","scale":{"domain":[2572.84,2700.4],"nice":false,"zero":false},"axis":null}}},
{"data":{"values":[{}]},"mark":{"type":"text","align":"left","baseline":"middle","fontSize":8,"fill":"#9a9a9a","text":"天指2503"},
 "encoding":{"x":{"datum":1.3,"type":"quantitative","scale":{"domain":[0.561,196.21],"nice":false,"zero":false},"axis":null},
  "y":{"datum":2608.9,"type":"quantitative","scale":{"domain":[2572.84,2700.4],"nice":false,"zero":false},"axis":null}}},
{"data":{"values":[{}]},"mark":{"type":"text","align":"left","baseline":"middle","fontSize":8,"fill":"#d8c800","text":"多"},
 "encoding":{"x":{"datum":-0.2,"type":"quantitative","scale":{"domain":[0.561,196.21],"nice":false,"zero":false},"axis":null},
  "y":{"datum":2608.9,"type":"quantitative","scale":{"domain":[2572.84,2700.4],"nice":false,"zero":false},"axis":null}}},
{"data":{"name":"oi"},"mark":{"type":"line","stroke":"#cfcfcf","strokeWidth":1},
 "encoding":{"x":{"field":"i","type":"quantitative","scale":{"domain":[0.561,196.21],"nice":false,"zero":false},"axis":null},
  "y":{"field":"v","type":"quantitative","scale":{"domain":[49109,135209],"nice":false,"zero":false},"axis":null}}},
{"data":{"values":[{}]},"mark":{"type":"text","align":"left","baseline":"middle","fontSize":8,"fill":"#c8c000","text":"CCL∨"},
 "encoding":{"x":{"datum":-0.39,"type":"quantitative","scale":{"domain":[0.561,196.21],"nice":false,"zero":false},"axis":null},
  "y":{"datum":71459,"type":"quantitative","scale":{"domain":[49109,135209],"nice":false,"zero":false},"axis":null}}},
{"data":{"values":[{}]},"mark":{"type":"text","align":"left","baseline":"middle","fontSize":8.5,"fill":"#22c022","text":"空头增仓 1349.00"},
 "encoding":{"x":{"datum":4.45,"type":"quantitative","scale":{"domain":[0.561,196.21],"nice":false,"zero":false},"axis":null},
  "y":{"datum":71459,"type":"quantitative","scale":{"domain":[49109,135209],"nice":false,"zero":false},"axis":null}}},
{"data":{"values":[{}]},"mark":{"type":"text","align":"left","baseline":"middle","fontSize":8.5,"fill":"#c8c8c8","text":"持仓量 64259.00"},
 "encoding":{"x":{"datum":17.9,"type":"quantitative","scale":{"domain":[0.561,196.21],"nice":false,"zero":false},"axis":null},
  "y":{"datum":71459,"type":"quantitative","scale":{"domain":[49109,135209],"nice":false,"zero":false},"axis":null}}},
{"data":{"name":"k"},"mark":{"type":"bar","size":4,"strokeWidth":1},
 "encoding":{"x":{"field":"i","type":"quantitative","scale":{"domain":[0.561,196.21],"nice":false,"zero":false},"axis":null},
  "y":{"field":"v","type":"quantitative","scale":{"domain":[-80,57320],"nice":false,"zero":false},"axis":null},
  "fill":{"field":"vt","type":"nominal","scale":{"domain":["r","c","hr","ht"],"range":["#ff3b3b","#00e5ee","#000000","#000000"]},"legend":null},
  "stroke":{"field":"vt","type":"nominal","scale":{"domain":["r","c","hr","ht"],"range":["#ff3b3b","#00e5ee","#a41a1a","#0f9aa2"]},"legend":null}}}
]
}
